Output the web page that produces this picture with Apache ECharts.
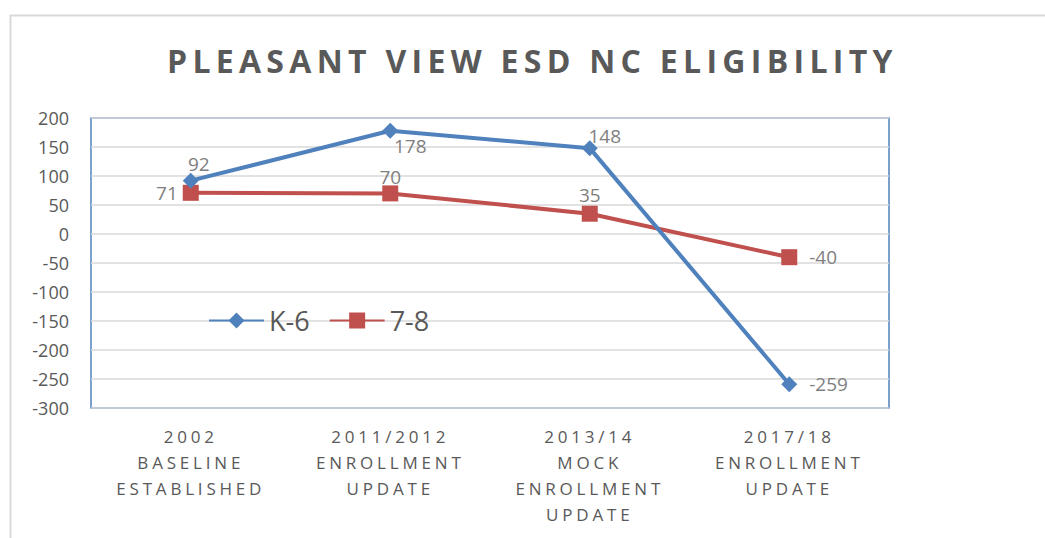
<!DOCTYPE html>
<html>
<head>
<meta charset="utf-8">
<script src="https://cdn.jsdelivr.net/npm/echarts@6/dist/echarts.min.js"></script>
<style>
  html, body { margin: 0; padding: 0; background: #fff; }
  #nc_chart { width: 1045px; height: 538px; }
</style>
</head>
<body>
<div id="nc_chart"></div>
<script>
// Chart data
// ------------------------------

var chartTitle = "PLEASANT VIEW ESD NC ELIGIBILITY";
var categories = [
  "2002\nBASELINE\nESTABLISHED",
  "2011/2012\nENROLLMENT\nUPDATE",
  "2013/14\nMOCK\nENROLLMENT\nUPDATE",
  "2017/18\nENROLLMENT\nUPDATE"
];
var k6Values = [92, 178, 148, -259];
var g78Values = [71, 70, 35, -40];

// label placement per point
var k6LabelPos = ["top", "bottom", "top", "right"];
var g78LabelPos = ["left", "top", "top", "right"];

// Setup chart
// ------------------------------

var ncChart = (function () {
  var initChart = function () {
    if (typeof echarts == "undefined") {
      console.warn("Warning - echarts.min.js is not loaded.");
      return;
    }

    var element = document.getElementById("nc_chart");
    var chart = echarts.init(element, null, { renderer: "svg" });

    var labelStyle = {
      show: true,
      color: "#7f7f7f",
      fontSize: 19,
      fontFamily: "Open Sans, sans-serif"
    };

    // label nudges, [dx, dy] per point
    var k6Offsets = [[8, 6], [20, -7], [15, 10], [7, 0]];
    var g78Offsets = [[0, 0], [0, 6], [0, 4], [7, 0]];

    var buildData = function (values, positions, offsets) {
      return values.map(function (v, i) {
        return {
          value: v,
          label: { position: positions[i], offset: offsets[i] }
        };
      });
    };

    chart.setOption({
      color: ["#4f81bd", "#c0504d"],
      animation: false,

      textStyle: {
        fontFamily: "Open Sans, sans-serif"
      },

      title: {
        text: chartTitle,
        left: 162,
        top: 39,
        textStyle: {
          fontSize: 32,
          fontWeight: "bold",
          color: "#595959",
          fontFamily: "Open Sans, sans-serif"
        }
      },

      graphic: [
        {
          type: "rect",
          left: 8,
          top: 13,
          shape: { width: 1060, height: 560 },
          style: { fill: "none", stroke: "#d9d9d9", lineWidth: 2 },
          silent: true
        }
      ],

      legend: {
        left: 203,
        top: 302,
        itemWidth: 55,
        itemHeight: 20,
        itemGap: 19,
        textStyle: { fontSize: 27, color: "#595959" },
        data: ["K-6", "7-8"]
      },

      grid: {
        left: 91,
        top: 118,
        right: 156,
        bottom: 130,
        show: true,
        borderColor: "#4f81bd",
        borderWidth: 1.5
      },

      xAxis: {
        type: "category",
        data: categories,
        boundaryGap: true,
        axisLine: { show: false },
        axisTick: { show: false },
        axisLabel: {
          margin: 15,
          fontSize: 17,
          lineHeight: 26,
          color: "#595959",
          interval: 0
        }
      },

      yAxis: {
        type: "value",
        min: -300,
        max: 200,
        interval: 50,
        axisLine: { show: false },
        axisTick: { show: false },
        axisLabel: { fontSize: 18, color: "#595959", margin: 22 },
        splitLine: { lineStyle: { color: "#d9d9d9", width: 1.5 } }
      },

      series: [
        {
          name: "K-6",
          type: "line",
          symbol: "diamond",
          symbolSize: 16,
          lineStyle: { width: 4 },
          label: labelStyle,
          data: buildData(k6Values, k6LabelPos, k6Offsets),
          z: 3
        },
        {
          name: "7-8",
          type: "line",
          symbol: "rect",
          symbolSize: 16,
          lineStyle: { width: 4 },
          label: labelStyle,
          data: buildData(g78Values, g78LabelPos, g78Offsets),
          z: 2
        }
      ]
    });

    // spaced-out lettering for title and category labels
    var spacing = {};
    spacing[chartTitle] = 5.3;
    categories.forEach(function (c) {
      c.split("\n").forEach(function (line) {
        spacing[line] = 3.8;
      });
    });

    var applySpacing = function () {
      var texts = element.querySelectorAll("svg text");
      texts.forEach(function (t) {
        var sp = spacing[t.textContent];
        if (!sp || t.getAttribute("data-sp")) return;
        t.style.letterSpacing = sp + "px";
        t.setAttribute("data-sp", "1");
        if (t.getAttribute("text-anchor") === "middle" && t.getAttribute("x") != null) {
          t.setAttribute("x", parseFloat(t.getAttribute("x")) + sp / 2);
        }
      });
    };

    applySpacing();
    chart.on("finished", applySpacing);

    window.addEventListener("resize", function () {
      chart.resize();
    });
  };

  return {
    init: function () {
      initChart();
    }
  };
})();

document.addEventListener("DOMContentLoaded", function () {
  ncChart.init();
});
</script>
</body>
</html>
